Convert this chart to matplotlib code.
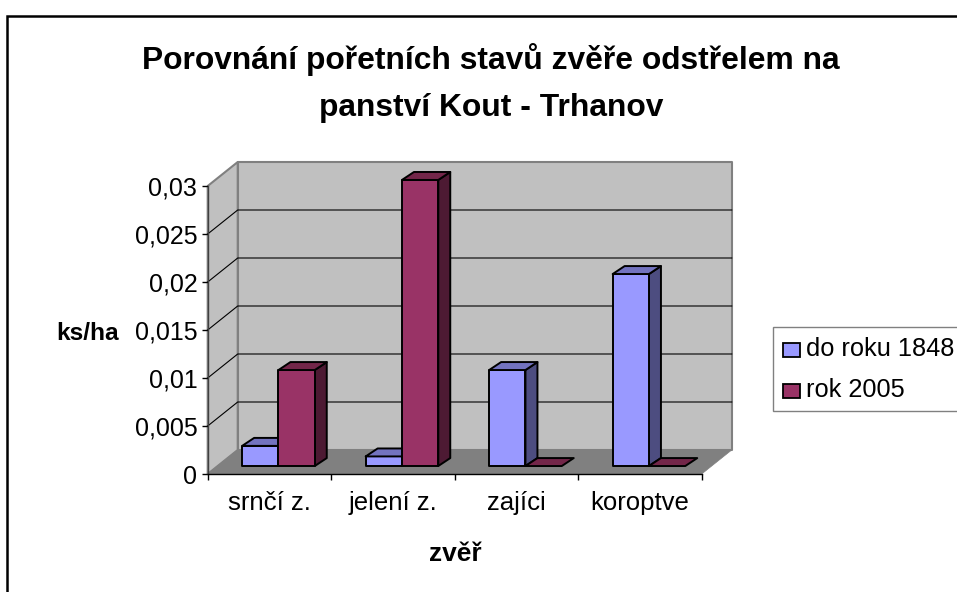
import matplotlib
matplotlib.use("Agg")
import matplotlib.pyplot as plt
from matplotlib.patches import Polygon, Rectangle

plt.rcParams['font.family'] = ['Liberation Sans', 'DejaVu Sans']

categories = ['srnčí z.', 'jelení z.', 'zajíci', 'koroptve']
do_1848 = [0.0021, 0.001, 0.01, 0.02]
rok_2005 = [0.01, 0.0298, 0, 0]
y_ticks = [0, 0.005, 0.01, 0.015, 0.02, 0.025, 0.03]
y_labels = ['0', '0,005', '0,01', '0,015', '0,02', '0,025', '0,03']

W, H = 957, 592
# depth of the box and of the bars, in data units
box_dx, box_dy = 0.243, 0.0025
off_dx, off_dy = 0.073, 0.00083
bar_dx, bar_dy = 0.097, 0.00083
bar_w = 0.294

fig = plt.figure(figsize=(W / 100, H / 100), dpi=100)
ax = fig.add_axes([207.7 / W, 1 - 474 / H, 494 / W, 288 / H])
ax.set_xlim(0, 4)
ax.set_ylim(0, 0.03)
ax.patch.set_visible(False)
for s in ['top', 'right']:
    ax.spines[s].set_visible(False)
ax.spines['left'].set_color('#404040')
ax.spines['bottom'].set_color('black')
ax.spines['left'].set_linewidth(1)
ax.spines['bottom'].set_linewidth(1)


def poly(pts, fc, ec, lw, z):
    ax.add_patch(Polygon(pts, closed=True, facecolor=fc, edgecolor=ec, linewidth=lw,
                         zorder=z, clip_on=False, joinstyle='round'))


# walls and floor
poly([(box_dx, box_dy), (4 + box_dx, box_dy), (4 + box_dx, 0.03 + box_dy), (box_dx, 0.03 + box_dy)],
     '#C0C0C0', '#808080', 1.5, 1)
poly([(0, 0), (box_dx, box_dy), (box_dx, 0.03 + box_dy), (0, 0.03)], '#C0C0C0', '#808080', 1.5, 1)
poly([(0, 0), (4, 0), (4 + box_dx, box_dy), (box_dx, box_dy)], '#808080', '#808080', 0.5, 1)

# gridlines
for t in y_ticks[1:-1]:
    ax.plot([0, box_dx, 4 + box_dx], [t, t + box_dy, t + box_dy], color='black', lw=0.8,
            zorder=2, clip_on=False)


def bar3d(x0, val, front, top, side, z):
    x0 = x0 + off_dx
    x1 = x0 + bar_w
    y0 = off_dy
    y1 = off_dy + val
    if val > 0:
        poly([(x1, y0), (x1 + bar_dx, y0 + bar_dy), (x1 + bar_dx, y1 + bar_dy), (x1, y1)],
             side, 'black', 1.4, z)
        poly([(x0, y0), (x1, y0), (x1, y1), (x0, y1)], front, 'black', 1.4, z)
    poly([(x0, y1), (x1, y1), (x1 + bar_dx, y1 + bar_dy), (x0 + bar_dx, y1 + bar_dy)],
         top, 'black', 1.4, z)


for i in range(len(categories)):
    c = i + 0.5
    bar3d(c - bar_w, do_1848[i], '#9999FF', '#7373BF', '#4D4D80', 3)
    bar3d(c, rok_2005[i], '#993366', '#732649', '#4D1A33', 4)

ax.set_yticks(y_ticks)
ax.set_yticklabels(y_labels, fontsize=18)
ax.set_xticks(range(5))
ax.set_xticklabels([])
ax.tick_params(axis='y', length=4.5, width=1, color='black', pad=3)
ax.tick_params(axis='x', length=4.5, width=1, color='black')
for i, name in enumerate(categories):
    ax.annotate(name, (i + 0.5, 0), xytext=(0, -21), textcoords='offset points',
                ha='center', va='center', fontsize=18.5, annotation_clip=False)

# outer frame
fig.add_artist(Rectangle((7 / W, -0.05), 1, 1 - 16 / H + 0.05, transform=fig.transFigure,
                         fill=False, edgecolor='black', linewidth=1.8))

fig.text(491 / W, 1 - 60 / H, 'Porovnání pořetních stavů zvěře odstřelem na', ha='center', va='center',
         fontsize=22.9, fontweight='bold')
fig.text(491 / W, 1 - 108 / H, 'panství Kout - Trhanov', ha='center', va='center',
         fontsize=22.9, fontweight='bold')
fig.text(88 / W, 1 - 334 / H, 'ks/ha', ha='center', va='center', fontsize=17.6, fontweight='bold')
fig.text(455 / W, 1 - 554 / H, 'zvěř', ha='center', va='center', fontsize=19, fontweight='bold')

# legend
fig.add_artist(Rectangle((773 / W, 1 - 411 / H), 200 / W, 84.5 / H, transform=fig.transFigure,
                         facecolor='white', edgecolor='#808080', linewidth=1))
for y, color, label in [(348, '#9999FF', 'do roku 1848'), (389, '#993366', 'rok 2005')]:
    fig.add_artist(Rectangle((783 / W, 1 - (y + 9) / H), 17 / W, 14 / H, transform=fig.transFigure,
                             facecolor=color, edgecolor='black', linewidth=1.3))
    fig.text(806 / W, 1 - (y + 1) / H, label, ha='left', va='center', fontsize=18.3)

fig.savefig('out.png', dpi=100)
